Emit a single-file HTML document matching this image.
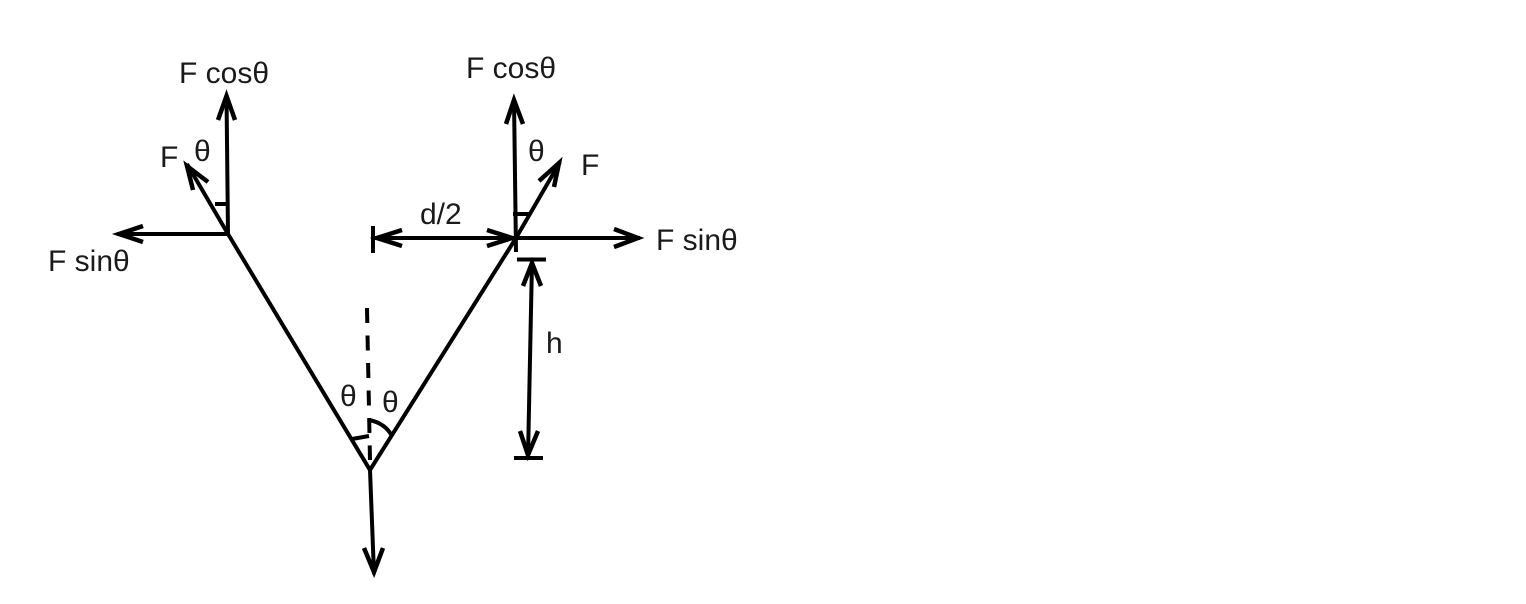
<!DOCTYPE html>
<html>
<head>
<meta charset="utf-8">
<style>
html,body{margin:0;padding:0;background:#fff;width:1526px;height:604px;overflow:hidden}
svg{display:block}
text{font-family:"Liberation Sans",Arial,sans-serif;font-size:30px;fill:#1a1a1a}
.l{fill:none;stroke:#000;stroke-width:4;stroke-linecap:butt;stroke-linejoin:miter}
.h{stroke-width:4.500}
</style>
</head>
<body>
<svg width="1526" height="604" viewBox="0 0 1526 604" xmlns="http://www.w3.org/2000/svg">
<g class="l">
<path d="M228 234L370 470L516 238"/>
<path d="M370 470L374 574"/>
<path class="h" d="M364 548L374 572L383 548"/>
<path d="M367 308L370 460" stroke-dasharray="15 12.500"/>
<path d="M369 420Q385 423 392 436" />
<path d="M352 439L369 436"/>
<path d="M228 234L226.500 95"/>
<path class="h" d="M218 120L226.500 96L235 120"/>
<path d="M228 234L117 234"/>
<path class="h" d="M143 226L119 234L143 242"/>
<path d="M228 234L187 164"/>
<path class="h" d="M193 190L187 166L208 182"/>
<path d="M215 204L227 204"/>
<path d="M516 252L514 99"/>
<path class="h" d="M506 124L514 100L523 124"/>
<path d="M516 238L560 162"/>
<path class="h" d="M539 181L559 163L554 187"/>
<path d="M513 214L530 214"/>
<path d="M373 238L514 238"/>
<path d="M373 226V253"/>
<path class="h" d="M402 230L377 238L402 246"/>
<path class="h" d="M487 230L512 238L487 246"/>
<path d="M516 238L640 238"/>
<path class="h" d="M614 229L638 238L614 247"/>
<path d="M517 259.500H546"/>
<path d="M532 261L528 457"/>
<path class="h" d="M523 286L532 263L541 286"/>
<path class="h" d="M520 431L528 455L538 431"/>
<path d="M514 458H543"/>
</g>
<text x="179" y="83">F cosθ</text>
<text x="466" y="78">F cosθ</text>
<text x="160" y="167">F</text>
<text x="194" y="161">θ</text>
<text x="528" y="161">θ</text>
<text x="581" y="175">F</text>
<text x="48" y="271">F sinθ</text>
<text x="656" y="250">F sinθ</text>
<text x="420" y="224">d/2</text>
<text x="546" y="353">h</text>
<text x="340" y="406">θ</text>
<text x="382" y="412">θ</text>
</svg>
</body>
</html>
